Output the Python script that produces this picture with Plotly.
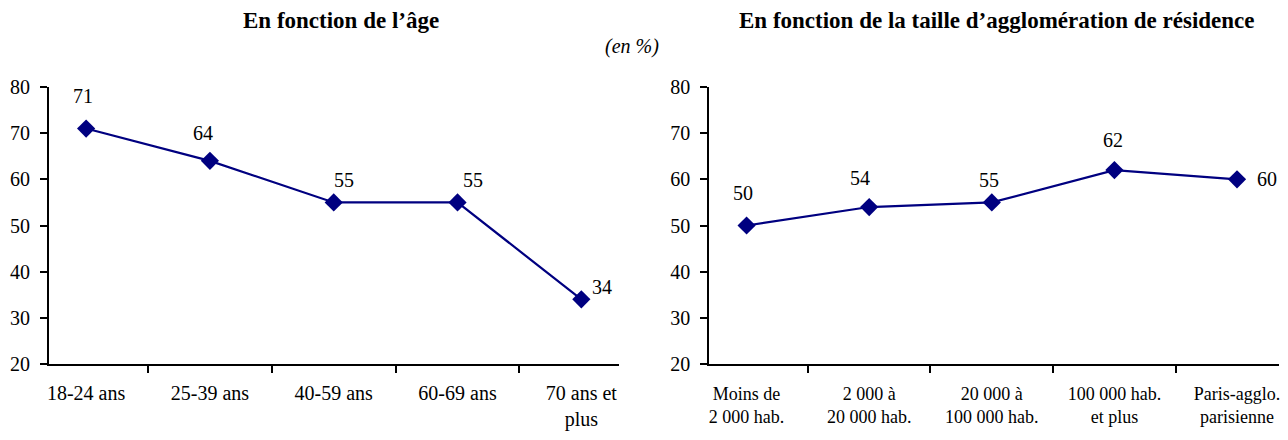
import plotly.graph_objects as go

age_categories = ["18-24 ans", "25-39 ans", "40-59 ans", "60-69 ans", "70 ans et<br>plus"]
age_values = [71, 64, 55, 55, 34]

size_categories = ["Moins de<br>2 000 hab.", "2 000 à<br>20 000 hab.", "20 000 à<br>100 000 hab.",
                   "100 000 hab.<br>et plus", "Paris-agglo.<br>parisienne"]
size_values = [50, 54, 55, 62, 60]

y_ticks = [20, 30, 40, 50, 60, 70, 80]

# label offsets (pixels) for value labels: style only
age_label_shift = [(-3, 33), (-7, 28), (10, 22), (15, 22), (21, 12)]
size_label_shift = [(-4, 33), (-9, 29), (-3, 22), (-1, 30), (30, 0)]

NAVY = "#000080"
FONT = "Liberation Serif, Times New Roman, serif"

fig = go.Figure()
fig.add_trace(go.Scatter(x=age_categories, y=age_values, mode="lines+markers",
                         line=dict(color=NAVY, width=2.2),
                         marker=dict(symbol="diamond", size=14, color=NAVY),
                         xaxis="x", yaxis="y", showlegend=False, hoverinfo="x+y"))
fig.add_trace(go.Scatter(x=size_categories, y=size_values, mode="lines+markers",
                         line=dict(color=NAVY, width=2.2),
                         marker=dict(symbol="diamond", size=14, color=NAVY),
                         xaxis="x2", yaxis="y2", showlegend=False, hoverinfo="x+y"))

annotations = []
for c, v, (dx, dy) in zip(age_categories, age_values, age_label_shift):
    annotations.append(dict(x=c, y=v, xref="x", yref="y", text=str(v), showarrow=False,
                            xshift=dx, yshift=dy, font=dict(family=FONT, size=20, color="black")))
for c, v, (dx, dy) in zip(size_categories, size_values, size_label_shift):
    annotations.append(dict(x=c, y=v, xref="x2", yref="y2", text=str(v), showarrow=False,
                            xshift=dx, yshift=dy, font=dict(family=FONT, size=20, color="black")))

annotations.append(dict(x=340 / 1288, y=1, xref="paper", yref="paper", yshift=67,
                        xanchor="center", yanchor="middle",
                        text="<b>En fonction de l’âge</b>", showarrow=False,
                        font=dict(family=FONT, size=23, color="black")))
annotations.append(dict(x=997 / 1288, y=1, xref="paper", yref="paper", yshift=67,
                        xanchor="center", yanchor="middle",
                        text="<b>En fonction de la taille d’agglomération de résidence</b>", showarrow=False,
                        font=dict(family=FONT, size=23, color="black")))
annotations.append(dict(x=631 / 1288, y=1, xref="paper", yref="paper", yshift=41,
                        xanchor="center", yanchor="middle",
                        text="<i>(en %)</i>", showarrow=False,
                        font=dict(family=FONT, size=20, color="black")))

axis_common = dict(showline=True, linecolor="black", linewidth=2, ticks="outside",
                   ticklen=7, tickwidth=2, tickcolor="black", showgrid=False, zeroline=False,
                   fixedrange=True)

fig.update_layout(
    width=1288, height=440,
    margin=dict(l=0, r=0, t=87, b=76),
    paper_bgcolor="white", plot_bgcolor="white",
    font=dict(family=FONT, color="black"),
    xaxis=dict(domain=[47 / 1288, 618 / 1288], anchor="y", type="category",
               tickson="boundaries", tickfont=dict(size=20), ticklabelstandoff=10, **axis_common),
    yaxis=dict(domain=[0, 1], anchor="x", range=[20, 80], tickvals=y_ticks,
               tickfont=dict(size=20), ticklabelstandoff=6, **axis_common),
    xaxis2=dict(domain=[709 / 1288, 1280 / 1288], anchor="y2", type="category",
                tickson="boundaries", tickfont=dict(size=18), ticklabelstandoff=12, **axis_common),
    yaxis2=dict(domain=[0, 1], anchor="x2", range=[20, 80], tickvals=y_ticks,
                tickfont=dict(size=20), ticklabelstandoff=6, **axis_common),
    annotations=annotations,
)

fig.write_html("out.html", config={"displayModeBar": False},
               post_script="document.body.style.margin='0';document.body.style.overflow='hidden';")
